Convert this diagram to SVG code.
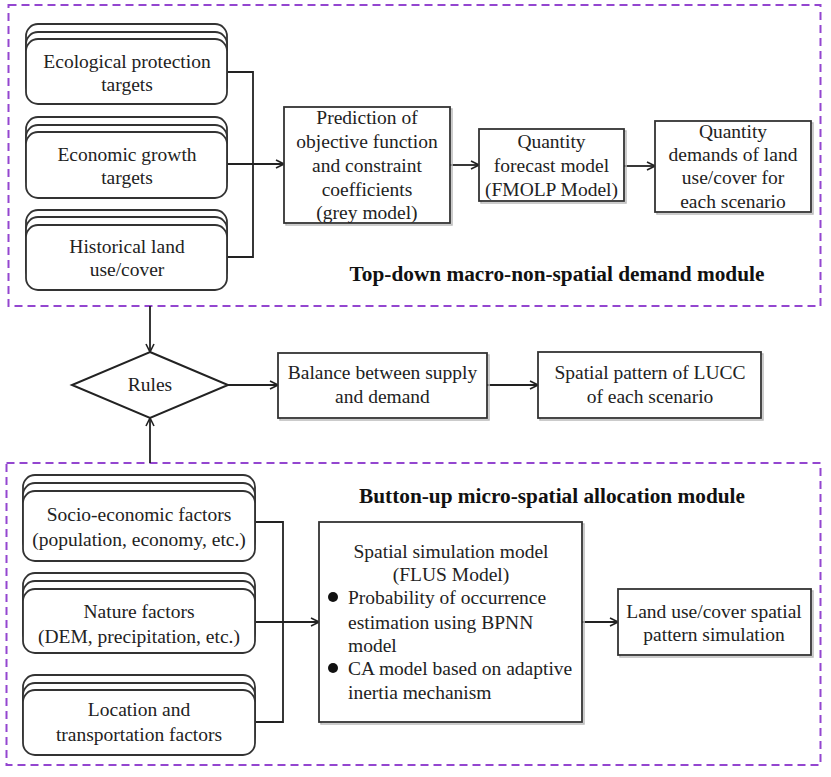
<svg xmlns="http://www.w3.org/2000/svg" width="831" height="777" viewBox="0 0 831 777">
<defs>
<style>
.t{font-family:"Liberation Serif","Times New Roman",serif;font-size:19.5px;fill:#222;text-anchor:middle}
.tl{font-family:"Liberation Serif","Times New Roman",serif;font-size:19.5px;fill:#222;text-anchor:start}
.b{font-family:"Liberation Serif","Times New Roman",serif;font-size:21.3px;font-weight:bold;fill:#111;text-anchor:middle}
.box{fill:#fff;stroke:#333;stroke-width:1.8}
.sh{fill:none;stroke:#bbb;stroke-width:1.5}
.rb{fill:#fff;stroke:#333;stroke-width:1.8}
.mod{fill:none;stroke:#9446d0;stroke-width:2;stroke-dasharray:8 5}
.c{fill:none;stroke:#222;stroke-width:1.8}
</style>
<marker id="ah" viewBox="0 0 10 10" refX="9" refY="5" markerWidth="10" markerHeight="10" markerUnits="userSpaceOnUse" orient="auto">
<path d="M1,1 L9,5 L1,9" fill="none" stroke="#222" stroke-width="1.6"/>
</marker>
</defs>
<rect width="831" height="777" fill="#fff"/>

<g id="module-top">
<rect class="mod" x="8.5" y="5" width="812" height="301"/>
<text class="b" x="557" y="281">Top-down macro-non-spatial demand module</text>
</g>
<g id="module-bottom">
<rect class="mod" x="6.5" y="463" width="814" height="302"/>
<text class="b" x="552" y="503">Button-up micro-spatial allocation module</text>
</g>

<g id="connectors">
<path class="c" d="M227,72 H253 V257 H227"/>
<path class="c" d="M227,164 H284" marker-end="url(#ah)"/>
<path class="c" d="M450,165 H479" marker-end="url(#ah)"/>
<path class="c" d="M624,166 H655" marker-end="url(#ah)"/>
<path class="c" d="M150,306 V352" marker-end="url(#ah)"/>
<path class="c" d="M150,463 V418" marker-end="url(#ah)"/>
<path class="c" d="M228,385 H278" marker-end="url(#ah)"/>
<path class="c" d="M487,385 H538" marker-end="url(#ah)"/>
<path class="c" d="M255,522 H283 V722 H255"/>
<path class="c" d="M255,622 H319" marker-end="url(#ah)"/>
<path class="c" d="M582,622 H618" marker-end="url(#ah)"/>
</g>

<g id="eco">
<rect class="rb" x="26" y="24" width="201" height="65" rx="12"/>
<rect class="rb" x="26" y="32" width="201" height="65" rx="12"/>
<rect class="rb" x="26" y="39" width="201" height="65" rx="12"/>
<text class="t" x="127" y="68">Ecological protection</text>
<text class="t" x="127" y="91">targets</text>
</g>
<g id="econ">
<rect class="rb" x="26" y="117" width="201" height="66" rx="12"/>
<rect class="rb" x="26" y="125" width="201" height="66" rx="12"/>
<rect class="rb" x="26" y="132" width="201" height="66" rx="12"/>
<text class="t" x="127" y="161">Economic growth</text>
<text class="t" x="127" y="184">targets</text>
</g>
<g id="hist">
<rect class="rb" x="26" y="210" width="201" height="65" rx="12"/>
<rect class="rb" x="26" y="217" width="201" height="65" rx="12"/>
<rect class="rb" x="26" y="225" width="201" height="65" rx="12"/>
<text class="t" x="127" y="253">Historical land</text>
<text class="t" x="127" y="276">use/cover</text>
</g>

<g id="pred">
<rect class="sh" x="286" y="109" width="166" height="116"/>
<rect class="box" x="284" y="107" width="166" height="116"/>
<text class="t" x="367" y="124">Prediction of</text>
<text class="t" x="367" y="148">objective function</text>
<text class="t" x="367" y="172">and constraint</text>
<text class="t" x="367" y="196">coefficients</text>
<text class="t" x="367" y="219">(grey model)</text>
</g>
<g id="forecast">
<rect class="sh" x="481" y="131" width="145" height="72"/>
<rect class="box" x="479" y="129" width="145" height="72"/>
<text class="t" x="551.5" y="148">Quantity</text>
<text class="t" x="551.5" y="172">forecast model</text>
<text class="t" x="551.5" y="196">(FMOLP Model)</text>
</g>
<g id="demands">
<rect class="sh" x="657" y="123" width="156" height="91"/>
<rect class="box" x="655" y="121" width="156" height="91"/>
<text class="t" x="733" y="138">Quantity</text>
<text class="t" x="733" y="161">demands of land</text>
<text class="t" x="733" y="184">use/cover for</text>
<text class="t" x="733" y="208">each scenario</text>
</g>

<g id="rules">
<polygon points="150,352 228,385 150,418 72,385" fill="#fff" stroke="#222" stroke-width="2"/>
<text class="t" x="150" y="391">Rules</text>
</g>
<g id="balance">
<rect class="sh" x="280" y="355" width="209" height="65"/>
<rect class="box" x="278" y="353" width="209" height="65"/>
<text class="t" x="382.5" y="379">Balance between supply</text>
<text class="t" x="382.5" y="403">and demand</text>
</g>
<g id="pattern">
<rect class="sh" x="540" y="354" width="223" height="66"/>
<rect class="box" x="538" y="352" width="223" height="66"/>
<text class="t" x="650" y="379">Spatial pattern of LUCC</text>
<text class="t" x="650" y="403">of each scenario</text>
</g>

<g id="socio">
<rect class="rb" x="23" y="475" width="232" height="70" rx="12"/>
<rect class="rb" x="23" y="483" width="232" height="70" rx="12"/>
<rect class="rb" x="23" y="491" width="232" height="70" rx="12"/>
<text class="t" x="139" y="521">Socio-economic factors</text>
<text class="t" x="139" y="546">(population, economy, etc.)</text>
</g>
<g id="nature">
<rect class="rb" x="23" y="573" width="232" height="64" rx="12"/>
<rect class="rb" x="23" y="581" width="232" height="64" rx="12"/>
<rect class="rb" x="23" y="589" width="232" height="64" rx="12"/>
<text class="t" x="139" y="618">Nature factors</text>
<text class="t" x="139" y="643">(DEM, precipitation, etc.)</text>
</g>
<g id="location">
<rect class="rb" x="23" y="675" width="232" height="65" rx="12"/>
<rect class="rb" x="23" y="683" width="232" height="65" rx="12"/>
<rect class="rb" x="23" y="690" width="232" height="65" rx="12"/>
<text class="t" x="139" y="716">Location and</text>
<text class="t" x="139" y="741">transportation factors</text>
</g>

<g id="flus">
<rect class="sh" x="321" y="524" width="263" height="200"/>
<rect class="box" x="319" y="522" width="263" height="200"/>
<text class="t" x="451" y="558">Spatial simulation model</text>
<text class="t" x="451" y="581">(FLUS Model)</text>
<circle cx="333" cy="597" r="5" fill="#111"/>
<text class="tl" x="348" y="604">Probability of occurrence</text>
<text class="tl" x="348" y="629">estimation using BPNN</text>
<text class="tl" x="348" y="652">model</text>
<circle cx="333" cy="668" r="5" fill="#111"/>
<text class="tl" x="348" y="675">CA model based on adaptive</text>
<text class="tl" x="348" y="699">inertia mechanism</text>
</g>
<g id="landuse">
<rect class="sh" x="620" y="591" width="193" height="66"/>
<rect class="box" x="618" y="589" width="193" height="66"/>
<text class="t" x="714" y="618">Land use/cover spatial</text>
<text class="t" x="714" y="641">pattern simulation</text>
</g>
</svg>
